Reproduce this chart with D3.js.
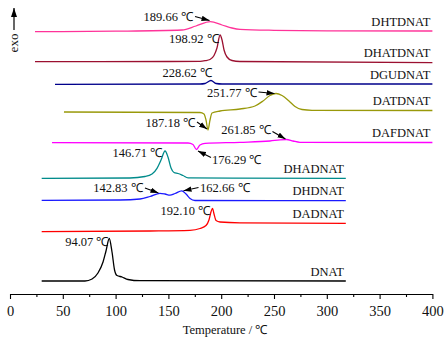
<!DOCTYPE html>
<html>
<head>
<meta charset="utf-8">
<script src="https://cdn.jsdelivr.net/npm/d3@7/dist/d3.min.js"></script>
<style>
body { margin: 0; background: #fff; }
</style>
</head>
<body>
<script>
// DSC curves, stacked top to bottom (temperature in C, signal in arbitrary stacked units)
var names = ["DHTDNAT", "DHATDNAT", "DGUDNAT", "DATDNAT", "DAFDNAT", "DHADNAT", "DHDNAT", "DADNAT", "DNAT"];
var colors = ["#ff3399", "#9b1030", "#00008b", "#99990a", "#ff00ff", "#008b8b", "#1a1aff", "#ff0000", "#000000"];

var tDHTDNAT = [23.7, 100, 162.9, 176.1, 189.7, 200.8, 210.2, 217.8, 250, 300, 400];
var sDHTDNAT = [26.23, 26.28, 26.4, 26.8, 27.23, 26.9, 26.6, 26.47, 26.37, 26.32, 26.3];

var tDHATDNAT = [23.7, 150, 180, 184.7, 189.4, 193.2, 196.0, 198.9, 200.8, 202.7, 205.5, 210.2, 217.8, 400];
var sDHATDNAT = [23.23, 23.25, 23.27, 23.33, 23.45, 23.85, 24.6, 25.9, 25.4, 24.4, 23.7, 23.35, 23.25, 23.13];

var tDGUDNAT = [42.6, 180, 184.7, 190.3, 195.1, 200.8, 400];
var sDGUDNAT = [20.97, 21.0, 21.05, 21.35, 21.05, 21.0, 21.0];

var tDATDNAT = [51.1, 179.9, 183.7, 185.6, 187.5, 189.4, 191.3, 198.9, 217.8, 232, 239.6, 246.2, 251.9, 257.6, 264.2, 269.9, 276.5, 286, 400];
var sDATDNAT = [18.2, 18.15, 18.0, 17.4, 16.4, 17.4, 18.1, 18.3, 18.5, 18.8, 19.3, 19.85, 20.05, 19.85, 19.3, 18.75, 18.45, 18.37, 18.35];

var tDAFDNAT = [39.8, 168.6, 173.3, 176.6, 179.9, 184.7, 217.8, 246.2, 255.7, 261.8, 268, 274.6, 400];
var sDAFDNAT = [15.13, 15.1, 14.95, 14.45, 14.9, 15.07, 15.17, 15.3, 15.42, 15.45, 15.3, 15.17, 15.15];

var tDHADNAT = [30, 113.6, 127.8, 134.5, 139.2, 143, 146.8, 149.6, 152.5, 155.3, 159.1, 163.8, 168.6, 318];
var sDHADNAT = [11.57, 11.6, 11.75, 12.0, 12.57, 13.4, 14.3, 13.7, 12.6, 12.15, 12.05, 11.85, 11.62, 11.57];

var tDHDNAT = [30, 104.2, 123.1, 132.6, 142, 146.8, 151.5, 156.3, 162.6, 166.7, 170.5, 175.2, 318];
var sDHDNAT = [9.37, 9.4, 9.5, 9.75, 10.07, 10.0, 9.88, 10.05, 10.32, 10.0, 9.55, 9.35, 9.33];

var tDADNAT = [30, 132.6, 170.5, 179.9, 185.6, 188.4, 190.3, 191.8, 193.2, 195.1, 198.9, 217.8, 318];
var sDADNAT = [6.23, 6.3, 6.37, 6.55, 6.85, 7.4, 8.2, 8.57, 8.0, 7.35, 7.2, 7.12, 7.07];

var tDNAT = [30, 71, 77.7, 83.3, 88.1, 90.9, 94.0, 96.6, 99.0, 101.3, 106.1, 111.7, 123.1, 318];
var sDNAT = [1.3, 1.3, 1.5, 2.1, 3.2, 4.3, 5.55, 4.2, 2.4, 1.85, 1.7, 1.45, 1.33, 1.3];

var temps = [tDHTDNAT, tDHATDNAT, tDGUDNAT, tDATDNAT, tDAFDNAT, tDHADNAT, tDHDNAT, tDADNAT, tDNAT];
var signals = [sDHTDNAT, sDHATDNAT, sDGUDNAT, sDATDNAT, sDAFDNAT, sDHADNAT, sDHDNAT, sDADNAT, sDNAT];

// peak labels: text, curve index, temperature of the marked point
var peakText = ["189.66 \u2103", "198.92 \u2103", "228.62 \u2103", "251.77 \u2103", "187.18 \u2103", "176.29 \u2103",
	"261.85 \u2103", "146.71 \u2103", "142.83 \u2103", "162.66 \u2103", "192.10 \u2103", "94.07 \u2103"];
var peakCurve = [0, 1, 2, 3, 3, 4, 4, 5, 6, 6, 7, 8];
var peakTemp = [189.7, 198.9, 190.3, 251.9, 187.5, 176.6, 261.8, 146.8, 142, 162.6, 191.8, 94.0];

var xTicks = [0, 50, 100, 150, 200, 250, 300, 350, 400];
var xMinor = [25, 75, 125, 175, 225, 275, 325, 375];

// label placement relative to the marked point (px): text offset, anchor, arrow start/end
var peakLayout = [
	{ dx: -17.3, dy: -1.2, a: "end", arrow: [-15.3, -5.2, -0.8, -1.2] },
	{ dx: -1.5, dy: 8, a: "end" },
	{ dx: 1, dy: -3.5, a: "end" },
	{ dx: -19.5, dy: 3.2, a: "end", arrow: [-17.5, -1.5, -1.5, 0] },
	{ dx: -13, dy: -3.5, a: "end", arrow: [-11, -8, -1, -1] },
	{ dx: 15.5, dy: 14, a: "start", arrow: [14.5, 8, 1.5, 1.5] },
	{ dx: -15.8, dy: -5.5, a: "end", arrow: [-14, -8, -1, -0.5] },
	{ dx: -3, dy: 5.7, a: "end" },
	{ dx: -17.3, dy: -1.6, a: "end", arrow: [-15, -5.3, -1.5, -0.3] },
	{ dx: 18.3, dy: 0.9, a: "start", arrow: [16.8, -3.3, 1.8, 0] },
	{ dx: -2.5, dy: 6.7, a: "end" },
	{ dx: -0.8, dy: 7.5, a: "end" }
];

var serif = "Liberation Serif";
var width = 448, height = 344;

var svg = d3.select("body").append("svg")
	.attr("width", width).attr("height", height)
	.attr("font-family", serif);

var defs = svg.append("defs");
defs.append("marker").attr("id", "head")
	.attr("markerUnits", "userSpaceOnUse")
	.attr("markerWidth", 8).attr("markerHeight", 6)
	.attr("refX", 8).attr("refY", 3).attr("orient", "auto")
	.append("path").attr("d", "M0,0.3L8,3L0,5.7Z").attr("fill", "#000");
defs.append("marker").attr("id", "up")
	.attr("markerUnits", "userSpaceOnUse")
	.attr("markerWidth", 6).attr("markerHeight", 9)
	.attr("refX", 3).attr("refY", 0).attr("orient", "0")
	.append("path").attr("d", "M0,9L3,0L6,9Z").attr("fill", "#000");

var x = d3.scaleLinear().domain([0, 400]).range([10, 432.4]);
var y = d3.scaleLinear().domain([0, 29.4]).range([294, 0]);

// axis
svg.append("g").attr("transform", "translate(0,294)")
	.call(d3.axisBottom(x).tickValues(xTicks).tickSize(5).tickSizeOuter(0).tickPadding(7))
	.call(function(g) {
		g.attr("font-family", serif).attr("font-size", 14.5);
		g.select(".domain").attr("stroke", "#000").attr("stroke-width", 1.1);
		g.selectAll(".tick line").attr("stroke", "#000").attr("stroke-width", 1.1);
		g.selectAll(".tick text").attr("fill", "#111");
	});
svg.append("g").attr("transform", "translate(0,294)")
	.call(d3.axisBottom(x).tickValues(xMinor).tickSize(3).tickFormat(""))
	.call(function(g) {
		g.select(".domain").remove();
		g.selectAll(".tick line").attr("stroke", "#000").attr("stroke-width", 1.1);
	});

svg.append("text").attr("x", 225).attr("y", 334).attr("text-anchor", "middle")
	.attr("font-size", 12.5).attr("fill", "#111").text("Temperature / \u2103");

// exo marker
svg.append("line").attr("x1", 14).attr("x2", 14).attr("y1", 30).attr("y2", 8)
	.attr("stroke", "#000").attr("stroke-width", 1.2).attr("marker-end", "url(#up)");
svg.append("text").attr("transform", "translate(17.5,43) rotate(-90)")
	.attr("text-anchor", "middle").attr("font-size", 13).attr("fill", "#111").text("exo");

// curves
var line = d3.line().curve(d3.curveMonotoneX)
	.x(function(d) { return x(d[0]); })
	.y(function(d) { return y(d[1]); });

var curves = names.map(function(n, i) {
	return temps[i].map(function(t, j) { return [t, signals[i][j]]; });
});

svg.selectAll(".curve").data(curves).enter().append("path")
	.attr("class", "curve")
	.attr("d", line)
	.attr("fill", "none")
	.attr("stroke", function(d, i) { return colors[i]; })
	.attr("stroke-width", 1.3);

// curve names at the right end of each curve
svg.selectAll(".name").data(curves).enter().append("text")
	.attr("class", "name")
	.attr("x", function(d) { return x(d[d.length - 1][0]) - 2; })
	.attr("y", function(d) { return y(d[d.length - 1][1]) - 5.3; })
	.attr("text-anchor", "end")
	.attr("font-size", 12.5)
	.attr("fill", "#111")
	.text(function(d, i) { return names[i]; });

// peak annotations
function pointAt(c, t) {
	var best = curves[c][0];
	curves[c].forEach(function(p) { if (Math.abs(p[0] - t) < Math.abs(best[0] - t)) best = p; });
	return [x(best[0]), y(best[1])];
}

peakText.forEach(function(s, i) {
	var p = pointAt(peakCurve[i], peakTemp[i]);
	var L = peakLayout[i];
	svg.append("text").attr("x", p[0] + L.dx).attr("y", p[1] + L.dy)
		.attr("text-anchor", L.a).attr("font-size", 12.5).attr("fill", "#111").text(s);
	if (L.arrow) {
		svg.append("line")
			.attr("x1", p[0] + L.arrow[0]).attr("y1", p[1] + L.arrow[1])
			.attr("x2", p[0] + L.arrow[2]).attr("y2", p[1] + L.arrow[3])
			.attr("stroke", "#000").attr("stroke-width", 1.1)
			.attr("marker-end", "url(#head)");
	}
});
</script>
</body>
</html>
